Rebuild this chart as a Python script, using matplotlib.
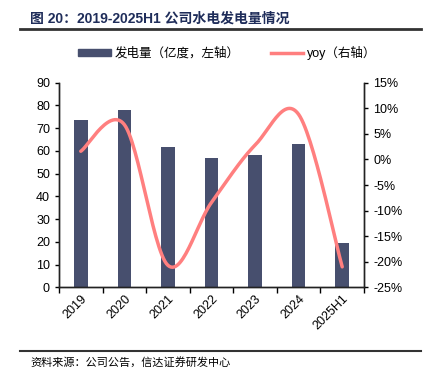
import numpy as np
import matplotlib
matplotlib.use("Agg")
import matplotlib.pyplot as plt
from matplotlib.patches import Patch
from matplotlib.lines import Line2D

plt.rcParams['font.family'] = ['Liberation Sans', 'Noto Sans CJK SC', 'DejaVu Sans']
plt.rcParams['axes.unicode_minus'] = False

categories = ["2019", "2020", "2021", "2022", "2023", "2024", "2025H1"]
generation = [73.6, 78.0, 61.9, 56.7, 58.2, 63.2, 19.5]   # 亿度, left axis
yoy = [1.6, 6.8, -20.7, -8.4, 2.8, 8.8, -21.0]           # %, right axis

bar_color = "#474F6E"
line_color = "#FF7F7F"
title_color = "#1F2D5A"


def smooth_curve(xs, ys, steps=30):
    # Excel-like smoothed line: cubic Bezier segments, control points 1/6 of neighbour span
    pts = np.column_stack([xs, ys]).astype(float)
    n = len(pts)
    out = []
    for i in range(n - 1):
        p0 = pts[max(i - 1, 0)]
        p1 = pts[i]
        p2 = pts[i + 1]
        p3 = pts[min(i + 2, n - 1)]
        c1 = p1 + (p2 - p0) / 6.0
        c2 = p2 - (p3 - p1) / 6.0
        t = np.linspace(0, 1, steps)[:, None]
        seg = ((1 - t) ** 3) * p1 + 3 * ((1 - t) ** 2) * t * c1 + 3 * (1 - t) * t ** 2 * c2 + t ** 3 * p2
        out.append(seg if i == 0 else seg[1:])
    out = np.vstack(out)
    return out[:, 0], out[:, 1]


fig = plt.figure(figsize=(4.29, 3.85), dpi=100)
ax = fig.add_axes([59 / 429, 1 - 287.3 / 385, (364 - 59) / 429, (287.3 - 82.7) / 385])
ax2 = ax.twinx()

x = np.arange(len(categories))
ax.bar(x, generation, width=0.31, color=bar_color, zorder=2)
ax.set_xlim(-0.5, len(categories) - 0.5)
ax.set_ylim(0, 90)
ax.set_yticks(np.arange(0, 91, 10))

sx, sy = smooth_curve(x, yoy)
ax2.plot(sx, sy, color=line_color, lw=2.5, solid_capstyle='round', zorder=3)
ax2.set_ylim(-25, 15)
ax2.set_yticks(np.arange(-25, 16, 5))
ax2.set_yticklabels([f"{v}%" for v in range(-25, 16, 5)])

ax.set_xticks(np.arange(-0.5, len(categories), 1.0))
ax.set_xticklabels([])
ax.set_xticks(x, minor=True)
ax.set_xticklabels(categories, minor=True, rotation=45, ha='right', va='top',
                   rotation_mode='anchor', fontsize=9)
ax.tick_params(axis='x', which='minor', length=0, pad=4)
ax.tick_params(axis='x', which='major', length=4, width=1, direction='out')
ax.tick_params(axis='y', length=3, width=1, labelsize=9)
ax2.tick_params(axis='y', length=3, width=1, labelsize=9)

for a in (ax, ax2):
    a.spines['top'].set_visible(False)
    for s in ('left', 'right', 'bottom'):
        a.spines[s].set_color('#222222')
        a.spines[s].set_linewidth(1)

handles = [Patch(color=bar_color), Line2D([], [], color=line_color, lw=2.5)]
fig.legend(handles, ["发电量（亿度，左轴）", "yoy（右轴）"], loc='center',
           bbox_to_anchor=(0.53, 1 - 53 / 385), ncol=2, frameon=False, fontsize=9,
           handlelength=2.6, handleheight=0.4, handletextpad=0.3, columnspacing=2.5)

fig.text(30 / 429, 1 - 19 / 385, "图 20：2019-2025H1 公司水电发电量情况", fontsize=10,
         fontweight='bold', color=title_color, va='center', ha='left')
fig.add_artist(Line2D([20 / 429, 421 / 429], [1 - 29 / 385, 1 - 29 / 385], color='#333333', lw=2))
fig.add_artist(Line2D([20 / 429, 421 / 429], [1 - 350.5 / 385, 1 - 350.5 / 385], color='#333333', lw=1.5))
fig.text(30 / 429, 1 - 362 / 385, "资料来源：公司公告，信达证券研发中心", fontsize=8,
         color='black', va='center', ha='left')

fig.savefig("out.png", dpi=100)
